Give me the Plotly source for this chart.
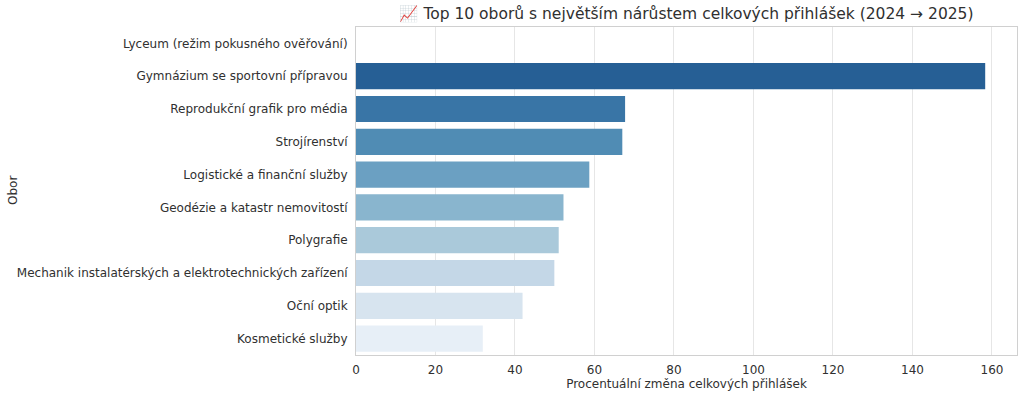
import colorsys
import plotly.graph_objects as go

# ---- data ----
obory = [
    "Lyceum (režim pokusného ověřování)",
    "Gymnázium se sportovní přípravou",
    "Reprodukční grafik pro média",
    "Strojírenství",
    "Logistické a finanční služby",
    "Geodézie a katastr nemovitostí",
    "Polygrafie",
    "Mechanik instalatérských a elektrotechnických zařízení",
    "Oční optik",
    "Kosmetické služby",
]
zmena_pct = [None, 158.3, 67.7, 67.0, 58.7, 52.2, 51.0, 49.9, 41.9, 31.9]
x_ticks = [0, 20, 40, 60, 80, 100, 120, 140, 160]

title_text = "📈 Top 10 oborů s největším nárůstem celkových přihlášek (2024 → 2025)"
x_title = "Procentuální změna celkových přihlášek"
y_title = "Obor"

# ---- style: seaborn "Blues_r" palette, desaturated 0.75 ----
blues_stops = ["#f7fbff", "#deebf7", "#c6dbef", "#9ecae1", "#6baed6",
               "#4292c6", "#2171b5", "#08519c", "#08306b"]


def hex2rgb(h):
    h = h.lstrip("#")
    return [int(h[i:i + 2], 16) / 255 for i in (0, 2, 4)]


def blues(t):
    pos = t * (len(blues_stops) - 1)
    i = min(int(pos), len(blues_stops) - 2)
    f = pos - i
    a, b = hex2rgb(blues_stops[i]), hex2rgb(blues_stops[i + 1])
    return [a[k] + (b[k] - a[k]) * f for k in range(3)]


def desat(rgb, prop=0.75):
    h, l, s = colorsys.rgb_to_hls(*rgb)
    r, g, b = colorsys.hls_to_rgb(h, l, s * prop)
    return "rgb(%d,%d,%d)" % (round(r * 255), round(g * 255), round(b * 255))


n = len(obory)
colors = [desat(blues(1 - (i + 1) / (n + 1))) for i in range(n)]

text_color = "#303030"
font_family = "DejaVu Sans"

W, H = 1024, 397
L, R, T, B = 356, 7, 27, 42
plot_w = W - L - R

fig = go.Figure()
fig.add_trace(go.Bar(
    y=obory,
    x=zmena_pct,
    orientation="h",
    marker=dict(color=colors, line=dict(width=0)),
    width=0.8,
    showlegend=False,
))

fig.update_layout(
    width=W,
    height=H,
    margin=dict(l=L, r=R, t=T, b=B),
    paper_bgcolor="white",
    plot_bgcolor="white",
    font=dict(family=font_family, size=12, color=text_color),
    title=dict(
        text=title_text,
        x=(L + (W - R)) / 2 / W,
        xanchor="center",
        y=1 - 14 / H,
        yanchor="middle",
        font=dict(size=15.5, color=text_color, family=font_family),
    ),
    bargap=0.2,
    annotations=[dict(
        text=y_title,
        xref="paper", yref="paper",
        x=(13 - L) / plot_w, y=0.5,
        xanchor="center", yanchor="middle",
        textangle=-90, showarrow=False,
        font=dict(size=12, color=text_color, family=font_family),
    )],
)

fig.update_xaxes(
    range=[0, 166.3],
    tickvals=x_ticks,
    ticktext=[str(v) for v in x_ticks],
    showgrid=True,
    gridcolor="#e6e6e6",
    gridwidth=1,
    zeroline=False,
    showline=True,
    linecolor="#d0d0d0",
    linewidth=1,
    mirror=True,
    ticks="",
    automargin=False,
    ticklabelstandoff=4,
    tickfont=dict(size=12, color=text_color),
    title=dict(text=x_title, font=dict(size=12, color=text_color), standoff=2),
)

fig.update_yaxes(
    type="category",
    categoryorder="array",
    categoryarray=obory,
    range=[n - 0.5, -0.5],
    showgrid=False,
    zeroline=False,
    showline=True,
    linecolor="#d0d0d0",
    linewidth=1,
    mirror=True,
    ticks="",
    automargin=False,
    ticklabelstandoff=5,
    tickfont=dict(size=12, color=text_color),
)

# remove the browser's default 8px page margin so the figure fills the window
fig.write_html(
    "out.html",
    config={"displayModeBar": False},
    post_script="document.body.style.margin='0';",
)
